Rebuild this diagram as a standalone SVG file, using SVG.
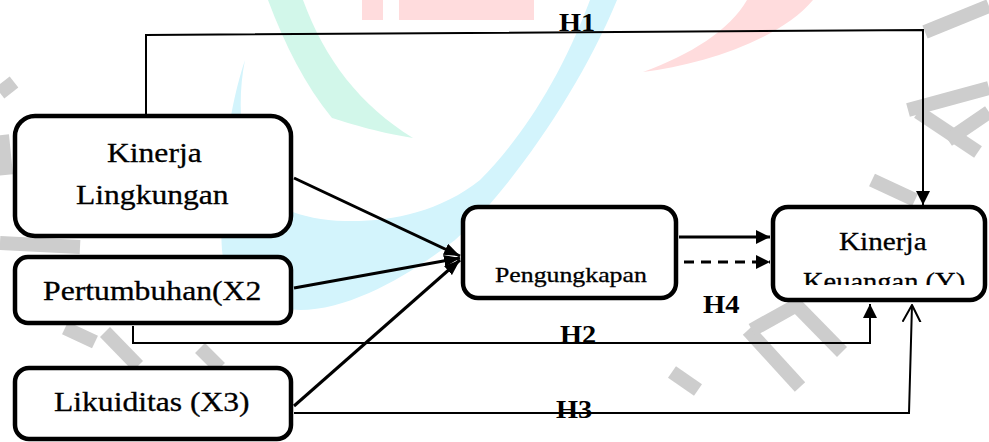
<svg xmlns="http://www.w3.org/2000/svg" width="989" height="442" viewBox="0 0 989 442">
<style>
  .box{fill:#ffffff;stroke:#000000;stroke-width:4.5}
  .lbl{font-family:"Liberation Serif","Times New Roman",serif;fill:#000000;stroke:#000000;stroke-width:0.3}
  .hl{font-family:"Liberation Serif","Times New Roman",serif;font-weight:bold;fill:#000000;font-size:26px}
  .thin{fill:none;stroke:#000000;stroke-width:2}
  .thick{fill:none;stroke:#000000;stroke-width:3}
  .wm{fill:none;stroke:#cdcdcd;stroke-width:14}
</style>
<defs>
  <marker id="arrBig" viewBox="0 0 16 12" refX="16" refY="6" markerWidth="16" markerHeight="12" markerUnits="userSpaceOnUse" orient="auto">
    <path d="M0,0 L16,6 L0,12 z" fill="#000000"/>
  </marker>
  <marker id="arrMid" viewBox="0 0 14 14" refX="14" refY="7" markerWidth="14" markerHeight="14" markerUnits="userSpaceOnUse" orient="auto">
    <path d="M0,0 L14,7 L0,14 z" fill="#000000"/>
  </marker>
  <marker id="arrOpen" viewBox="0 0 18 20" refX="17" refY="10" markerWidth="18" markerHeight="20" markerUnits="userSpaceOnUse" orient="auto">
    <path d="M0,1 L17,10 L0,19" fill="none" stroke="#000000" stroke-width="2"/>
  </marker>
  <clipPath id="clipY">
    <rect x="775" y="209" width="208" height="76"/>
  </clipPath>
</defs>

<rect x="0" y="0" width="989" height="442" fill="#ffffff"/>

<g id="watermark">
  <path d="M245,60 C228,110 218,190 222,250 C226,290 250,308 300,310 C350,310 410,275 455,240 C510,190 580,90 617,0 L590,0 C560,80 520,140 480,180 C440,212 390,222 345,221 C300,220 265,205 255,180 C240,145 237,100 245,60 Z" fill="#d3f4fc"/>
  <path d="M268,0 L303,0 C325,60 360,105 413,138 C375,132 345,122 332,118 C305,85 285,45 268,0 Z" fill="#d2f7ea"/>
  <rect x="362" y="0" width="21" height="20" fill="#ffdcdd"/>
  <rect x="399" y="0" width="135" height="20" fill="#ffdcdd"/>
  <path d="M747,0 C730,30 690,55 643,72 C700,65 780,40 813,0 Z" fill="#ffdcdd"/>
  <path class="wm" d="M925,32 L989,6"/>
  <path class="wm" d="M908,110 L989,88"/>
  <path class="wm" d="M918,112 L978,152"/>
  <path class="wm" d="M948,140 L989,112"/>
  <path class="wm" d="M872,180 L915,200"/>
  <path class="wm" d="M800,387 L748,330"/>
  <path class="wm" d="M752,330 L797,305"/>
  <path class="wm" d="M793,302 L842,352"/>
  <path class="wm" d="M672,372 L698,390"/>
  <path class="wm" d="M0,93 L14,82"/>
  <path class="wm" d="M2,135 L6,175"/>
  <path class="wm" d="M0,243 L80,247"/>
  <path class="wm" d="M65,328 L95,342"/>
  <path class="wm" d="M105,332 L138,366"/>
  <path class="wm" d="M200,348 L220,368"/>
</g>

<g id="connectors">
  <polyline class="thin" points="146,114 146,35 923,30 923,205" marker-end="url(#arrMid)"/>
  <polyline class="thin" points="133,326 133,343 870,343 870,304" marker-end="url(#arrMid)"/>
  <polyline class="thin" points="294,413 909,413 912,305" marker-end="url(#arrOpen)"/>
  <line class="thick" x1="294" y1="178" x2="460" y2="256" marker-end="url(#arrBig)"/>
  <line class="thick" x1="294" y1="288" x2="460" y2="258" marker-end="url(#arrBig)"/>
  <line class="thick" x1="294" y1="406" x2="460" y2="260" marker-end="url(#arrBig)"/>
  <line class="thick" x1="679" y1="237" x2="770" y2="237" marker-end="url(#arrMid)"/>
  <line class="thick" x1="684" y1="262" x2="770" y2="262" stroke-dasharray="10,7" marker-end="url(#arrMid)"/>
</g>

<g id="node-lingkungan">
  <rect class="box" x="15" y="116" width="276" height="120" rx="20" ry="20"/>
  <text class="lbl" transform="translate(107,162) scale(1.17,1)" font-size="27">Kinerja</text>
  <text class="lbl" transform="translate(76,204) scale(1.17,1)" font-size="27">Lingkungan</text>
</g>

<g id="node-pertumbuhan">
  <rect class="box" x="15" y="257" width="276" height="66" rx="13" ry="13"/>
  <text class="lbl" transform="translate(43,300) scale(1.175,1)" font-size="27">Pertumbuhan(X2</text>
</g>

<g id="node-likuiditas">
  <rect class="box" x="15" y="368" width="276" height="71" rx="14" ry="14"/>
  <text class="lbl" transform="translate(54,411) scale(1.17,1)" font-size="27">Likuiditas (X3)</text>
</g>

<g id="node-pengungkapan">
  <rect class="box" x="463" y="207" width="213" height="91" rx="15" ry="15"/>
  <text class="lbl" transform="translate(495,282) scale(1.2,1)" font-size="21.5">Pengungkapan</text>
</g>

<g id="node-keuangan">
  <rect class="box" x="773" y="207" width="212" height="93" rx="15" ry="15"/>
  <text class="lbl" transform="translate(839,250) scale(1.17,1)" font-size="25">Kinerja</text>
  <g clip-path="url(#clipY)">
    <text class="lbl" transform="translate(803,290) scale(1.14,1)" font-size="25">Keuangan (Y)</text>
  </g>
</g>

<g id="labels">
  <text class="hl" transform="translate(559,31) scale(1.09,1)">H1</text>
  <text class="hl" transform="translate(560,343) scale(1.09,1)">H2</text>
  <text class="hl" transform="translate(556,418) scale(1.09,1)">H3</text>
  <text class="hl" transform="translate(703,313) scale(1.1,1)">H4</text>
</g>
</svg>
